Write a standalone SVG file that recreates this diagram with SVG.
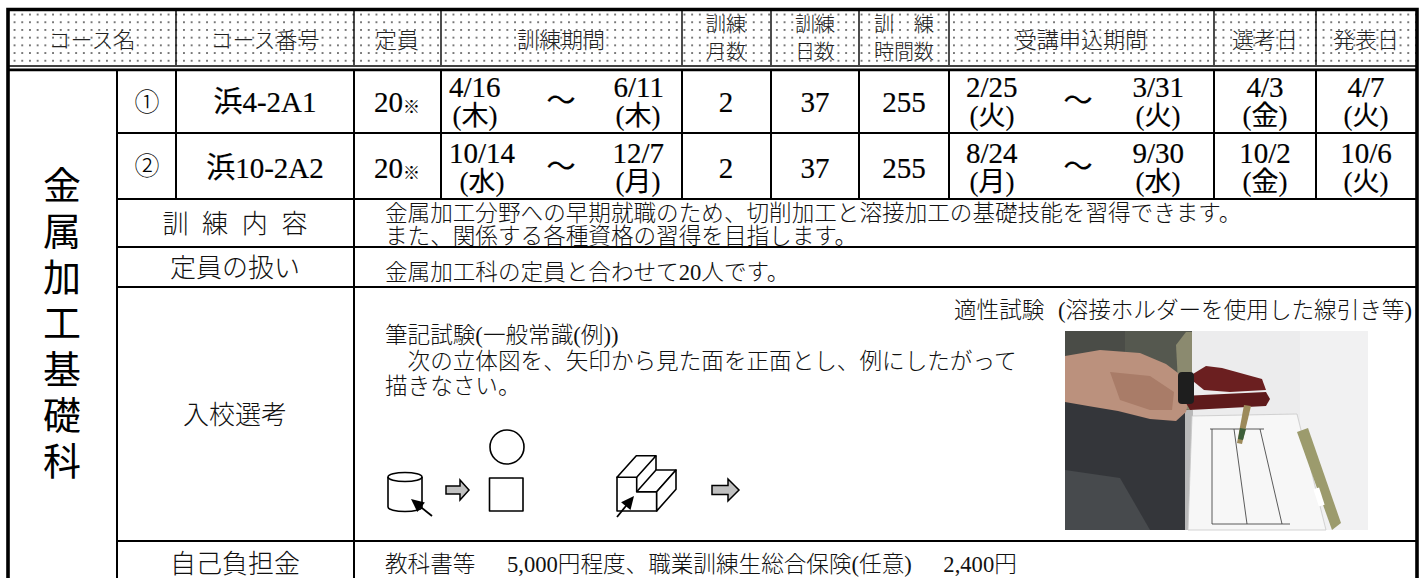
<svg xmlns="http://www.w3.org/2000/svg" width="1424" height="578" viewBox="0 0 1424 578">
<defs>
<pattern id="dots" width="7.7" height="7.7" patternUnits="userSpaceOnUse" x="3" y="3">
<rect width="7.7" height="7.7" fill="#fff"/>
<circle cx="3.85" cy="3.85" r="0.85" fill="#333"/>
</pattern>
</defs>
<style>
.hd{font-family:"Noto Sans CJK JP","Noto Sans",sans-serif;font-size:22px;font-weight:300;fill:#222;text-anchor:middle}
.hd2{font-family:"Noto Sans CJK JP","Noto Sans",sans-serif;font-size:20px;font-weight:300;fill:#222;text-anchor:middle}
.num{font-family:"Liberation Serif","Noto Sans CJK JP",serif;font-size:29px;fill:#000;stroke:#000;stroke-width:0.2}
.wk{font-family:"Liberation Serif","Noto Sans CJK JP",serif;font-size:27px;fill:#000;stroke:#000;stroke-width:0.15;text-anchor:middle}
.cir{font-family:"Noto Sans CJK JP",sans-serif;font-size:25px;font-weight:300;fill:#000;text-anchor:middle}
.c{text-anchor:middle}
.s{text-anchor:start}
.e{text-anchor:end}
.lbl{font-family:"Noto Sans CJK JP",sans-serif;font-size:26px;font-weight:300;fill:#111;text-anchor:middle}
.txt{font-family:"Liberation Serif","Noto Sans CJK JP",serif;font-size:22.6px;font-weight:300;fill:#111}
.title{font-family:"Noto Sans CJK JP",sans-serif;font-size:38px;fill:#000;writing-mode:vertical-rl;letter-spacing:8px}
.ln{stroke:#000;stroke-width:2;fill:none}
.bd{stroke:#000;stroke-width:3.6;fill:none}
.fig{stroke:#000;stroke-width:1.6;fill:#fff;stroke-linejoin:round}
.blk{fill:#c0c0c0;stroke:#000;stroke-width:1.5;stroke-linejoin:miter}
.ah{fill:#000;stroke:none}
</style>

<rect width="1424" height="578" fill="#fff"/>

<!-- header -->
<g id="header">
<rect x="8" y="10" width="1409" height="55" fill="url(#dots)"/>
<g id="h-course"><text class="hd" x="92" y="48">コース名</text></g>
<g id="h-number"><text class="hd" x="265" y="48">コース番号</text></g>
<g id="h-capacity"><text class="hd" x="397" y="48">定員</text></g>
<g id="h-period"><text class="hd" x="561" y="48">訓練期間</text></g>
<g id="h-months"><text class="hd2" x="726" y="32">訓練</text><text class="hd2" x="726" y="59">月数</text></g>
<g id="h-days"><text class="hd2" x="815" y="32">訓練</text><text class="hd2" x="815" y="59">日数</text></g>
<g id="h-hours"><text class="hd2" x="904" y="32">訓　練</text><text class="hd2" x="904" y="59">時間数</text></g>
<g id="h-apply"><text class="hd" x="1081" y="48">受講申込期間</text></g>
<g id="h-select"><text class="hd" x="1265" y="48">選考日</text></g>
<g id="h-announce"><text class="hd" x="1366" y="48">発表日</text></g>
</g>

<!-- table lines -->
<g id="grid">
<g stroke="#000" stroke-width="1.4">
<line x1="176" y1="10" x2="176" y2="65"/>
<line x1="354" y1="10" x2="354" y2="65"/>
<line x1="441" y1="10" x2="441" y2="65"/>
<line x1="682" y1="10" x2="682" y2="65"/>
<line x1="771" y1="10" x2="771" y2="65"/>
<line x1="859" y1="10" x2="859" y2="65"/>
<line x1="949" y1="10" x2="949" y2="65"/>
<line x1="1214" y1="10" x2="1214" y2="65"/>
<line x1="1316" y1="10" x2="1316" y2="65"/>
<line x1="8" y1="66" x2="1417" y2="66"/>
</g>
<line x1="8" y1="69.8" x2="1417" y2="69.8" stroke="#000" stroke-width="2.8"/>
<g class="ln">
<line x1="117" y1="70" x2="117" y2="578"/>
<line x1="176" y1="70" x2="176" y2="199"/>
<line x1="354" y1="70" x2="354" y2="578"/>
<line x1="441" y1="70" x2="441" y2="199"/>
<line x1="682" y1="70" x2="682" y2="199"/>
<line x1="771" y1="70" x2="771" y2="199"/>
<line x1="859" y1="70" x2="859" y2="199"/>
<line x1="949" y1="70" x2="949" y2="199"/>
<line x1="1214" y1="70" x2="1214" y2="199"/>
<line x1="1316" y1="70" x2="1316" y2="199"/>
<line x1="117" y1="133" x2="1417" y2="133"/>
<line x1="117" y1="199" x2="1417" y2="199"/>
<line x1="117" y1="247" x2="1417" y2="247"/>
<line x1="117" y1="287" x2="1417" y2="287"/>
<line x1="117" y1="541" x2="1417" y2="541"/>
</g>
<path class="bd" d="M8,578 V9.5 H1417 V578"/>
</g>

<!-- course title -->
<g id="course-title">
<text class="title" x="62" y="166">金属加工基礎科</text>
</g>

<!-- row 1 -->
<g id="row1">
<text class="cir" x="147" y="111">①</text>
<text class="num c" x="265" y="112">浜4-2A1</text>
<text class="num c" x="397" y="112">20<tspan font-size="17" stroke-width="0.1" dy="1">※</tspan></text>
<text class="num s" x="449" y="97">4/16</text>
<text class="wk" x="475" y="125">(木)</text>
<text class="num c" x="561" y="111">～</text>
<text class="num e" x="664" y="97">6/11</text>
<text class="wk" x="638" y="125">(木)</text>
<text class="num c" x="726" y="112">2</text>
<text class="num c" x="815" y="112">37</text>
<text class="num c" x="904" y="112">255</text>
<text class="num s" x="966" y="97">2/25</text>
<text class="wk" x="992" y="125">(火)</text>
<text class="num c" x="1078" y="111">～</text>
<text class="num e" x="1184" y="97">3/31</text>
<text class="wk" x="1158" y="125">(火)</text>
<text class="num c" x="1265" y="97">4/3</text>
<text class="wk" x="1265" y="125">(金)</text>
<text class="num c" x="1366" y="97">4/7</text>
<text class="wk" x="1366" y="125">(火)</text>
</g>

<!-- row 2 -->
<g id="row2">
<text class="cir" x="147" y="175">②</text>
<text class="num c" x="265" y="178">浜10-2A2</text>
<text class="num c" x="397" y="178">20<tspan font-size="17" stroke-width="0.1" dy="1">※</tspan></text>
<text class="num s" x="449" y="163">10/14</text>
<text class="wk" x="482" y="191">(水)</text>
<text class="num c" x="561" y="177">～</text>
<text class="num e" x="664" y="163">12/7</text>
<text class="wk" x="638" y="191">(月)</text>
<text class="num c" x="726" y="178">2</text>
<text class="num c" x="815" y="178">37</text>
<text class="num c" x="904" y="178">255</text>
<text class="num s" x="966" y="163">8/24</text>
<text class="wk" x="992" y="191">(月)</text>
<text class="num c" x="1078" y="177">～</text>
<text class="num e" x="1184" y="163">9/30</text>
<text class="wk" x="1158" y="191">(水)</text>
<text class="num c" x="1265" y="163">10/2</text>
<text class="wk" x="1265" y="191">(金)</text>
<text class="num c" x="1366" y="163">10/6</text>
<text class="wk" x="1366" y="191">(火)</text>
</g>

<!-- training content -->
<g id="row-content">
<text class="lbl" x="235" y="233" word-spacing="8">訓 練 内 容</text>
<text class="txt" x="385" y="221">金属加工分野への早期就職のため、切削加工と溶接加工の基礎技能を習得できます。</text>
<text class="txt" x="385" y="244">また、関係する各種資格の習得を目指します。</text>
</g>

<!-- capacity handling -->
<g id="row-capacity">
<text class="lbl" x="235" y="277">定員の扱い</text>
<text class="txt" x="385" y="280">金属加工科の定員と合わせて20人です。</text>
</g>

<!-- selection -->
<g id="row-selection">
<text class="lbl" x="235" y="424">入校選考</text>
<text class="txt" x="1412" y="318" text-anchor="end">適性試験 <tspan dx="8">(溶接ホルダーを使用した線引き等)</tspan></text>
<text class="txt" x="385" y="343">筆記試験(一般常識(例))</text>
<text class="txt" x="385" y="369">　次の立体図を、矢印から見た面を正面とし、例にしたがって</text>
<text class="txt" x="385" y="394">描きなさい。</text>

<g id="fig-cylinder">
<path class="fig" d="M388,477 V507 A17,4.5 0 0 0 422,507 V477"/>
<ellipse class="fig" cx="405" cy="477" rx="17" ry="4.5"/>
</g>
<g id="fig-circle"><circle class="fig" cx="507" cy="447" r="17"/></g>
<g id="fig-square"><rect class="fig" x="489.5" y="478" width="33.5" height="33"/></g>
<g id="fig-step">
<path class="fig" d="M617,511 V477.3 H636.7 V491.7 H656.7 V511 Z"/>
<path class="fig" d="M617,477.3 L636.3,455.7 H656 L636.7,477.3 Z"/>
<path class="fig" d="M636.7,491.7 L656,470 H676 L656.7,491.7 Z"/>
<path class="fig" d="M656.7,491.7 L676,470 V489.3 L656.7,511 Z"/>
<line x1="656" y1="455.7" x2="656" y2="470" stroke="#000" stroke-width="1.6"/>
</g>
</g>

<!-- connectors (figure arrows) -->
<g id="connectors">
<line x1="432" y1="516" x2="420" y2="506.4" stroke="#000" stroke-width="1.8"/>
<polygon class="ah" points="411,499 424.9,502.5 417.3,511.9"/>
<line x1="617" y1="517" x2="626.5" y2="505.3" stroke="#000" stroke-width="1.8"/>
<polygon class="ah" points="634,496 630.5,509.9 621.1,502.3"/>
<polygon class="blk" points="446,486 460,486 460,480 469,490 460,500 460,494 446,494"/>
<polygon class="blk" points="712,485.5 728,485.5 728,479 739,490 728,501 728,494.5 712,494.5"/>
</g>

<!-- photo (drawn approximation) -->
<g id="photo">
<rect x="1065" y="331" width="303" height="199" fill="#e9e9ea"/>
<rect x="1192" y="331" width="176" height="199" fill="#ececed"/>
<rect x="1300" y="331" width="68" height="199" fill="#f1f1f2"/>
<rect x="1065" y="331" width="127" height="90" fill="#55584f"/>
<rect x="1065" y="331" width="60" height="30" fill="#4a4c47"/>
<polygon points="1176,345 1186,332 1192,332 1192,420 1180,420" fill="#8b8a6f"/>
<polygon points="1065,395 1190,410 1192,530 1065,530" fill="#34363a"/>
<polygon points="1065,470 1120,478 1150,530 1065,530" fill="#474a4d"/>
<rect x="1185" y="410" width="8" height="120" fill="#b9b9b9"/>
<polygon points="1065,356 1100,350 1140,353 1166,364 1182,376 1190,394 1186,412 1176,421 1150,419 1118,411 1088,406 1065,402" fill="#bb917d"/>
<polygon points="1110,372 1150,376 1174,392 1172,410 1150,410 1120,400" fill="#a97c68"/>
<polygon points="1192,416 1297,414 1326,530 1188,530" fill="#f7f7f7" stroke="#c8c8c8" stroke-width="0.8"/>
<g stroke="#333" stroke-width="0.8">
<line x1="1210" y1="429" x2="1264" y2="429"/>
<line x1="1212" y1="429" x2="1212" y2="524"/>
<line x1="1234" y1="429" x2="1247" y2="524"/>
<line x1="1260" y1="429" x2="1282" y2="524"/>
<line x1="1212" y1="524" x2="1290" y2="524"/>
</g>
<polygon points="1188,377 1206,366 1222,368 1262,379 1266,390 1230,392 1204,390" fill="#6b1f20"/>
<polygon points="1182,396 1266,392 1270,399 1266,406 1190,410" fill="#5e1a1b"/>
<rect x="1178" y="372" width="16" height="32" rx="4" fill="#1e1e1e"/>
<polygon points="1244,405 1251,406 1242,444 1237,443" fill="#9c8a5a"/>
<polygon points="1240,428 1246,429 1243,440 1238,439" fill="#3d5f3a"/>
<polygon points="1297,432 1308,428 1341,523 1332,530" fill="#9c9b6d"/>
<rect x="1316" y="488" width="6" height="18" fill="#fff" transform="rotate(-18 1319 497)"/>
</g>

<!-- self-pay -->
<g id="row-cost">
<text class="lbl" x="235" y="573">自己負担金</text>
<text class="txt" x="385" y="572">教科書等　<tspan dx="9">5,000円程度、職業訓練生総合保険(任意)　</tspan><tspan dx="9">2,400円</tspan></text>
</g>
</svg>
